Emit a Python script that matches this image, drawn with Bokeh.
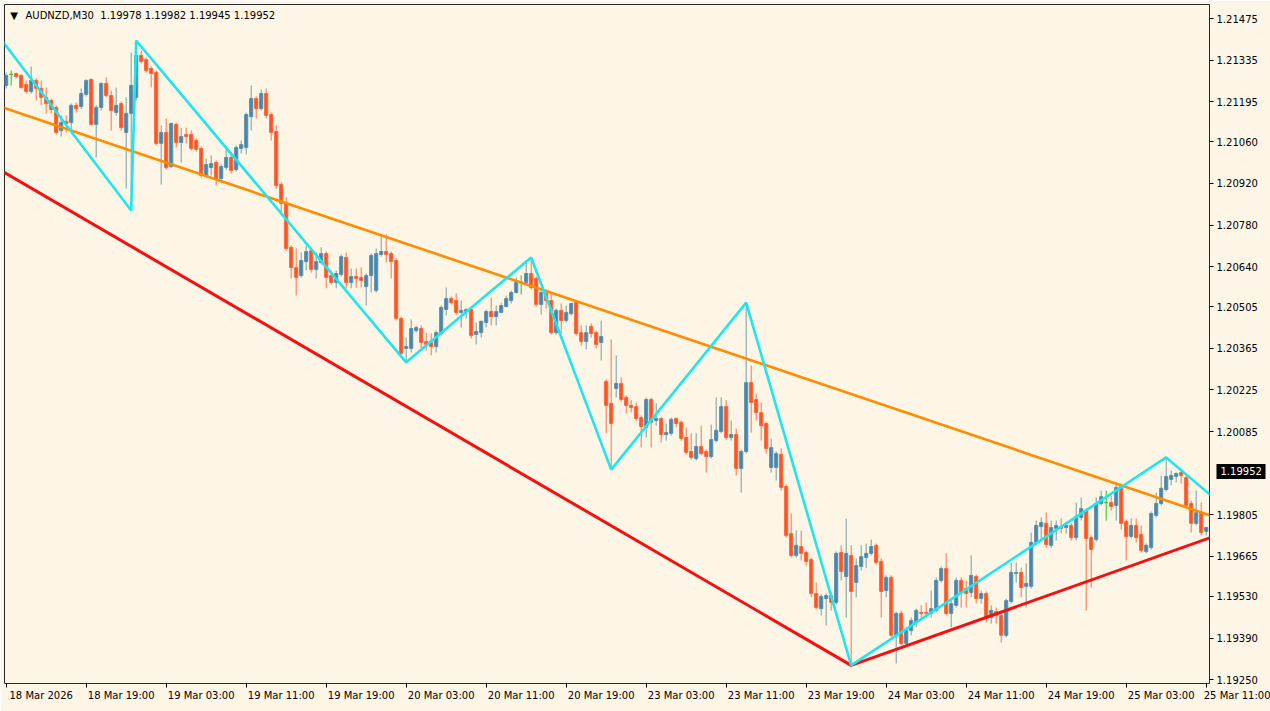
from bokeh.plotting import figure
from bokeh.models import Range1d, FixedTicker, Label, ColumnDataSource, LinearAxis
from bokeh.embed import file_html
from bokeh.resources import INLINE

# ---------------- data (AUDNZD M30, bar index 0 = 18 Mar 2026 11:00) ----------------
opens = [
    1.21250, 1.21287, 1.21290, 1.21284, 1.21253, 1.21230, 1.21267, 1.21240, 1.21210, 1.21199,
    1.21176, 1.21098, 1.21129, 1.21125, 1.21183, 1.21179, 1.21220, 1.21270, 1.21119, 1.21176,
    1.21257, 1.21216, 1.21159, 1.21189, 1.21092, 1.21156, 1.21210, 1.21351, 1.21337, 1.21307,
    1.21294, 1.21055, 1.21092, 1.20977, 1.21119, 1.21058, 1.21085, 1.21085, 1.21065, 1.21038,
    1.20947, 1.20974, 1.20991, 1.20937, 1.20974, 1.21008, 1.20967, 1.21038, 1.21041, 1.21145,
    1.21206, 1.21172, 1.21223, 1.21152, 1.21095, 1.20917, 1.20853, 1.20705, 1.20637, 1.20610,
    1.20657, 1.20694, 1.20631, 1.20654, 1.20684, 1.20610, 1.20587, 1.20614, 1.20671, 1.20587,
    1.20607, 1.20604, 1.20573, 1.20610, 1.20560, 1.20681, 1.20691, 1.20684, 1.20661, 1.20466,
    1.20365, 1.20365, 1.20425, 1.20432, 1.20388, 1.20385, 1.20371, 1.20415, 1.20496, 1.20533,
    1.20526, 1.20486, 1.20489, 1.20496, 1.20412, 1.20418, 1.20452, 1.20489, 1.20472, 1.20486,
    1.20506, 1.20526, 1.20553, 1.20587, 1.20587, 1.20617, 1.20600, 1.20513, 1.20550, 1.20526,
    1.20418, 1.20493, 1.20459, 1.20482, 1.20519, 1.20418, 1.20388, 1.20439, 1.20418, 1.20385,
    1.20254, 1.20180, 1.20230, 1.20247, 1.20200, 1.20173, 1.20169, 1.20132, 1.20099, 1.20193,
    1.20122, 1.20129, 1.20075, 1.20079, 1.20129, 1.20116, 1.20065, 1.20018, 1.19994, 1.20035,
    1.20018, 1.20001, 1.20055, 1.20085, 1.20169, 1.20065, 1.20075, 1.19961, 1.20018, 1.20250,
    1.20193, 1.20149, 1.20112, 1.19964, 1.19964, 1.20008, 1.19900, 1.19742, 1.19668, 1.19698,
    1.19678, 1.19654, 1.19540, 1.19489, 1.19523, 1.19533, 1.19510, 1.19678, 1.19597, 1.19668,
    1.19577, 1.19631, 1.19661, 1.19675, 1.19702, 1.19648, 1.19550, 1.19594, 1.19399, 1.19473,
    1.19372, 1.19415, 1.19442, 1.19476, 1.19476, 1.19473, 1.19483, 1.19584, 1.19624, 1.19473,
    1.19500, 1.19584, 1.19557, 1.19543, 1.19597, 1.19523, 1.19540, 1.19459, 1.19479, 1.19466,
    1.19399, 1.19513, 1.19607, 1.19611, 1.19564, 1.19564, 1.19712, 1.19765, 1.19776, 1.19702,
    1.19759, 1.19765, 1.19762, 1.19769, 1.19728, 1.19796, 1.19819, 1.19728, 1.19722, 1.19843,
    1.19846, 1.19846, 1.19836, 1.19904, 1.19782, 1.19732, 1.19769, 1.19739, 1.19681, 1.19695,
    1.19803, 1.19843, 1.19890, 1.19924, 1.19934, 1.19947, 1.19930, 1.19843, 1.19776, 1.19813,
    1.19749,
]
highs = [
    1.21294, 1.21300, 1.21294, 1.21287, 1.21267, 1.21314, 1.21274, 1.21267, 1.21243, 1.21206,
    1.21183, 1.21149, 1.21149, 1.21189, 1.21193, 1.21240, 1.21270, 1.21274, 1.21183, 1.21260,
    1.21277, 1.21233, 1.21243, 1.21196, 1.21210, 1.21361, 1.21401, 1.21368, 1.21344, 1.21314,
    1.21300, 1.21115, 1.21139, 1.21125, 1.21125, 1.21108, 1.21108, 1.21098, 1.21072, 1.21045,
    1.21004, 1.21014, 1.20997, 1.20984, 1.21038, 1.21024, 1.21048, 1.21065, 1.21159, 1.21250,
    1.21213, 1.21236, 1.21240, 1.21159, 1.21115, 1.20923, 1.20873, 1.20711, 1.20701, 1.20688,
    1.20711, 1.20701, 1.20688, 1.20705, 1.20691, 1.20627, 1.20627, 1.20681, 1.20688, 1.20634,
    1.20634, 1.20637, 1.20617, 1.20684, 1.20701, 1.20745, 1.20748, 1.20691, 1.20668, 1.20472,
    1.20402, 1.20462, 1.20442, 1.20442, 1.20418, 1.20415, 1.20425, 1.20509, 1.20570, 1.20540,
    1.20550, 1.20526, 1.20499, 1.20503, 1.20452, 1.20459, 1.20496, 1.20536, 1.20509, 1.20519,
    1.20543, 1.20560, 1.20604, 1.20610, 1.20661, 1.20671, 1.20607, 1.20567, 1.20563, 1.20553,
    1.20499, 1.20516, 1.20509, 1.20519, 1.20526, 1.20442, 1.20442, 1.20449, 1.20425, 1.20459,
    1.20260, 1.20395, 1.20341, 1.20267, 1.20206, 1.20190, 1.20183, 1.20139, 1.20200, 1.20200,
    1.20180, 1.20132, 1.20112, 1.20132, 1.20132, 1.20122, 1.20099, 1.20079, 1.20079, 1.20105,
    1.20025, 1.20109, 1.20200, 1.20200, 1.20190, 1.20122, 1.20095, 1.20025, 1.20519, 1.20307,
    1.20213, 1.20183, 1.20119, 1.20062, 1.20018, 1.20028, 1.19907, 1.19809, 1.19752, 1.19752,
    1.19685, 1.19661, 1.19577, 1.19537, 1.19540, 1.19543, 1.19681, 1.19702, 1.19792, 1.19702,
    1.19658, 1.19702, 1.19708, 1.19722, 1.19708, 1.19658, 1.19601, 1.19601, 1.19479, 1.19483,
    1.19422, 1.19459, 1.19489, 1.19500, 1.19510, 1.19550, 1.19594, 1.19631, 1.19675, 1.19516,
    1.19594, 1.19594, 1.19584, 1.19668, 1.19604, 1.19550, 1.19547, 1.19500, 1.19493, 1.19473,
    1.19523, 1.19644, 1.19644, 1.19627, 1.19641, 1.19745, 1.19786, 1.19796, 1.19813, 1.19786,
    1.19786, 1.19792, 1.19779, 1.19776, 1.19846, 1.19863, 1.19826, 1.19735, 1.19863, 1.19887,
    1.19887, 1.19870, 1.19914, 1.19910, 1.19789, 1.19792, 1.19792, 1.19769, 1.19708, 1.19816,
    1.19880, 1.19937, 1.19998, 1.19954, 1.19947, 1.19954, 1.19937, 1.19853, 1.19887, 1.19846,
    1.19765,
]
lows = [
    1.21240, 1.21250, 1.21274, 1.21240, 1.21223, 1.21223, 1.21199, 1.21183, 1.21156, 1.21156,
    1.21085, 1.21078, 1.21092, 1.21098, 1.21159, 1.21172, 1.21213, 1.21115, 1.21008, 1.21166,
    1.21210, 1.21098, 1.21149, 1.21098, 1.20903, 1.20829, 1.21199, 1.21324, 1.21294, 1.21243,
    1.21048, 1.20917, 1.20967, 1.20971, 1.21041, 1.20991, 1.21055, 1.21031, 1.21028, 1.20940,
    1.20940, 1.20947, 1.20913, 1.20920, 1.20967, 1.20954, 1.20960, 1.21021, 1.21018, 1.21098,
    1.21139, 1.21166, 1.21139, 1.21065, 1.20903, 1.20822, 1.20694, 1.20600, 1.20543, 1.20604,
    1.20627, 1.20620, 1.20600, 1.20647, 1.20567, 1.20580, 1.20567, 1.20607, 1.20567, 1.20567,
    1.20570, 1.20570, 1.20509, 1.20553, 1.20553, 1.20674, 1.20654, 1.20600, 1.20459, 1.20341,
    1.20318, 1.20351, 1.20418, 1.20358, 1.20358, 1.20341, 1.20351, 1.20408, 1.20476, 1.20513,
    1.20479, 1.20435, 1.20466, 1.20398, 1.20378, 1.20402, 1.20435, 1.20442, 1.20442, 1.20482,
    1.20503, 1.20516, 1.20550, 1.20546, 1.20580, 1.20563, 1.20506, 1.20479, 1.20499, 1.20412,
    1.20412, 1.20415, 1.20452, 1.20476, 1.20408, 1.20375, 1.20361, 1.20402, 1.20365, 1.20324,
    1.20079, 1.19957, 1.20200, 1.20186, 1.20146, 1.20149, 1.20122, 1.20031, 1.20065, 1.20031,
    1.20105, 1.20048, 1.20055, 1.20072, 1.20099, 1.20055, 1.20008, 1.19991, 1.19988, 1.20005,
    1.19947, 1.19994, 1.20048, 1.20079, 1.20058, 1.20055, 1.19937, 1.19880, 1.20011, 1.20082,
    1.20122, 1.20055, 1.20011, 1.19947, 1.19920, 1.19887, 1.19728, 1.19661, 1.19661, 1.19651,
    1.19634, 1.19527, 1.19486, 1.19466, 1.19432, 1.19483, 1.19503, 1.19584, 1.19459, 1.19298,
    1.19527, 1.19617, 1.19627, 1.19668, 1.19638, 1.19459, 1.19527, 1.19392, 1.19304, 1.19365,
    1.19365, 1.19399, 1.19426, 1.19456, 1.19459, 1.19459, 1.19476, 1.19577, 1.19466, 1.19426,
    1.19493, 1.19493, 1.19493, 1.19527, 1.19506, 1.19506, 1.19442, 1.19439, 1.19439, 1.19375,
    1.19392, 1.19506, 1.19577, 1.19527, 1.19493, 1.19557, 1.19702, 1.19712, 1.19695, 1.19692,
    1.19718, 1.19742, 1.19742, 1.19718, 1.19718, 1.19786, 1.19483, 1.19560, 1.19715, 1.19836,
    1.19786, 1.19819, 1.19786, 1.19755, 1.19651, 1.19725, 1.19712, 1.19678, 1.19675, 1.19688,
    1.19796, 1.19836, 1.19883, 1.19904, 1.19914, 1.19910, 1.19830, 1.19745, 1.19769, 1.19735,
    1.19735,
]
closes = [
    1.21284, 1.21287, 1.21280, 1.21243, 1.21230, 1.21267, 1.21240, 1.21210, 1.21189, 1.21169,
    1.21092, 1.21125, 1.21122, 1.21183, 1.21172, 1.21223, 1.21267, 1.21119, 1.21176, 1.21257,
    1.21216, 1.21166, 1.21183, 1.21108, 1.21156, 1.21250, 1.21351, 1.21331, 1.21300, 1.21290,
    1.21055, 1.21092, 1.20974, 1.21122, 1.21058, 1.21078, 1.21078, 1.21038, 1.21035, 1.20947,
    1.20984, 1.20987, 1.20937, 1.20977, 1.21008, 1.20964, 1.21041, 1.21051, 1.21152, 1.21206,
    1.21172, 1.21223, 1.21149, 1.21092, 1.20913, 1.20853, 1.20701, 1.20637, 1.20604, 1.20661,
    1.20691, 1.20631, 1.20657, 1.20684, 1.20604, 1.20587, 1.20617, 1.20674, 1.20587, 1.20607,
    1.20600, 1.20594, 1.20610, 1.20678, 1.20684, 1.20691, 1.20681, 1.20657, 1.20466, 1.20348,
    1.20371, 1.20432, 1.20435, 1.20385, 1.20378, 1.20371, 1.20418, 1.20503, 1.20533, 1.20519,
    1.20486, 1.20493, 1.20496, 1.20408, 1.20422, 1.20456, 1.20489, 1.20472, 1.20489, 1.20509,
    1.20533, 1.20553, 1.20587, 1.20587, 1.20617, 1.20570, 1.20513, 1.20553, 1.20526, 1.20418,
    1.20493, 1.20459, 1.20486, 1.20516, 1.20415, 1.20388, 1.20418, 1.20415, 1.20378, 1.20405,
    1.20173, 1.20112, 1.20247, 1.20193, 1.20173, 1.20166, 1.20129, 1.20102, 1.20193, 1.20116,
    1.20129, 1.20075, 1.20082, 1.20126, 1.20112, 1.20062, 1.20015, 1.19998, 1.20035, 1.20011,
    1.20001, 1.20058, 1.20089, 1.20169, 1.20065, 1.20075, 1.19961, 1.20018, 1.20250, 1.20183,
    1.20149, 1.20105, 1.20028, 1.20031, 1.20011, 1.19897, 1.19735, 1.19668, 1.19702, 1.19675,
    1.19648, 1.19540, 1.19493, 1.19530, 1.19533, 1.19510, 1.19675, 1.19614, 1.19675, 1.19547,
    1.19634, 1.19664, 1.19675, 1.19698, 1.19644, 1.19547, 1.19594, 1.19399, 1.19473, 1.19372,
    1.19415, 1.19449, 1.19483, 1.19473, 1.19473, 1.19489, 1.19584, 1.19624, 1.19473, 1.19506,
    1.19584, 1.19543, 1.19540, 1.19601, 1.19523, 1.19540, 1.19456, 1.19483, 1.19466, 1.19399,
    1.19516, 1.19611, 1.19611, 1.19560, 1.19574, 1.19712, 1.19769, 1.19779, 1.19705, 1.19762,
    1.19769, 1.19759, 1.19769, 1.19728, 1.19799, 1.19826, 1.19725, 1.19688, 1.19843, 1.19866,
    1.19846, 1.19833, 1.19897, 1.19776, 1.19732, 1.19769, 1.19728, 1.19685, 1.19702, 1.19809,
    1.19843, 1.19894, 1.19934, 1.19937, 1.19944, 1.19937, 1.19836, 1.19776, 1.19813, 1.19745,
    1.19762,
]

# time axis labels (every 16 bars)
time_tick_bars = [0, 16, 32, 48, 64, 80, 96, 112, 128, 144, 160, 176, 192, 208, 224, 240]
time_tick_labels = ["18 Mar 2026", "18 Mar 19:00", "19 Mar 03:00", "19 Mar 11:00", "19 Mar 19:00",
                    "20 Mar 03:00", "20 Mar 11:00", "20 Mar 19:00", "23 Mar 03:00", "23 Mar 11:00",
                    "23 Mar 19:00", "24 Mar 03:00", "24 Mar 11:00", "24 Mar 19:00", "25 Mar 03:00",
                    "25 Mar 11:00"]

# price axis ticks
price_ticks = [1.21475, 1.21335, 1.21195, 1.21060, 1.20920, 1.20780, 1.20640, 1.20505,
               1.20365, 1.20225, 1.20085, 1.19805, 1.19665, 1.19530, 1.19390, 1.19250]
price_tick_labels = ["1.21475", "1.21335", "1.21195", "1.21060", "1.20920", "1.20780", "1.20640",
                     "1.20505", "1.20365", "1.20225", "1.20085", "1.19805", "1.19665", "1.19530",
                     "1.19390", "1.19250"]

# zigzag (cyan) vertices: bar index, price
zigzag_bars = [-3, 25, 26, 80, 105, 121, 148, 169, 232, 242]
zigzag_prices = [1.21449, 1.20829, 1.21401, 1.20318, 1.20671, 1.19957, 1.20519, 1.19298, 1.19998, 1.19855]
# resistance trendline (orange)
resist_bars = [-1, 242]
resist_prices = [1.21178, 1.19796]
# support lines (red)
support_bars = [-1, 169, 242]
support_prices = [1.20963, 1.19298, 1.19735]

symbol_text = "AUDNZD,M30\u00a0\u00a01.19978 1.19982 1.19945 1.19952"
last_price = 1.19952
last_price_text = "1.19952"

# ---------------- styling ----------------
BG = "#FDF5E6"
BULL_BODY, BULL_WICK = "#4A86AA", "#7DA7AC"
BEAR_BODY, BEAR_WICK = "#F8552A", "#FF7D55"
DOJI = "#32CD32"
FONT = "DejaVu Sans"

n = len(closes)
xs = list(range(n))
body_top, body_bot, body_col, body_line, wick_col = [], [], [], [], []
for o, c in zip(opens, closes):
    body_top.append(max(o, c))
    body_bot.append(min(o, c))
    if c > o:
        body_col.append(BULL_BODY); body_line.append("#5A91AE"); wick_col.append(BULL_WICK)
    elif c < o:
        body_col.append(BEAR_BODY); body_line.append("#FF6434"); wick_col.append(BEAR_WICK)
    else:
        body_col.append(DOJI); body_line.append(DOJI); wick_col.append(DOJI)

src = ColumnDataSource(dict(x=xs, o=opens, h=highs, l=lows, c=closes, top=body_top,
                            bot=body_bot, fill=body_col, edge=body_line, wick=wick_col))
doji_x = [i for i in xs if opens[i] == closes[i]]
doji_src = ColumnDataSource(dict(x0=[i - 0.35 for i in doji_x], x1=[i + 0.35 for i in doji_x],
                                 y=[closes[i] for i in doji_x]))

X_START, X_END = -0.34, 240.66
p = figure(width=1270, height=711, output_backend="svg", toolbar_location=None,
           x_range=Range1d(X_START, X_END), y_range=Range1d(1.19237, 1.215225),
           x_axis_location="below", y_axis_location="right",
           min_border_left=4, min_border_top=4, min_border_right=61, min_border_bottom=28,
           background_fill_color=BG, border_fill_color=BG,
           outline_line_color="#2a2a2a", outline_line_width=1)
p.grid.visible = False

p.segment(x0="x", y0="l", x1="x", y1="h", line_color="wick", line_width=1.1, source=src)
p.vbar(x="x", width=0.62, top="top", bottom="bot", fill_color="fill", line_color="edge",
       line_width=1, source=src)
p.segment(x0="x0", y0="y", x1="x1", y1="y", line_color=DOJI, line_width=1.3, source=doji_src)

p.line(resist_bars, resist_prices, line_color="#FF8C00", line_width=2.6)
p.line(support_bars, support_prices, line_color="#F41010", line_width=3.0)
p.line(zigzag_bars, zigzag_prices, line_color="#1FE6EE", line_width=2.6)

# price axis (right)
yax = p.yaxis[0]
yax.ticker = FixedTicker(ticks=price_ticks)
yax.major_label_overrides = {v: s for v, s in zip(price_ticks, price_tick_labels)}
yax.major_tick_out = 4
yax.major_tick_in = 0
yax.minor_tick_out = 0
yax.minor_tick_in = 0
yax.major_tick_line_color = "#000000"
yax.axis_line_color = None
yax.major_label_standoff = 3
yax.major_label_text_font = FONT
yax.major_label_text_font_size = "10px"
yax.major_label_text_color = "#000000"

# second, practically zero-width price axis: its thick inward tick is the black
# last-price box and its label writes the white price back over it
price_axis = LinearAxis(ticker=FixedTicker(ticks=[last_price]),
                        major_label_overrides={last_price: last_price_text},
                        major_tick_out=5, major_tick_in=44, minor_tick_out=0, minor_tick_in=0,
                        major_tick_line_width=15, major_tick_line_color="#000000",
                        axis_line_color=None, major_label_standoff=-45,
                        major_label_text_font=FONT, major_label_text_font_size="10px",
                        major_label_text_color="#FFFFFF")
p.add_layout(price_axis, "right")

# time axis (bottom): visible ticks at bar positions, labels shifted right of tick
LABEL_SHIFT = 7
label_pos = [t + LABEL_SHIFT for t in time_tick_bars[:-1]] + [X_END - 0.06]
label_txt = time_tick_labels[:-1] + ["\u00a0" * 22 + time_tick_labels[-1]]
xax = p.xaxis[0]
xax.ticker = FixedTicker(ticks=label_pos, minor_ticks=time_tick_bars)
xax.major_label_overrides = {t: s for t, s in zip(label_pos, label_txt)}
xax.major_tick_line_color = None
xax.major_tick_out = 4
xax.major_tick_in = 0
xax.minor_tick_out = 4
xax.minor_tick_in = 0
xax.minor_tick_line_color = "#000000"
xax.axis_line_color = None
xax.major_label_standoff = 2
xax.major_label_text_font = FONT
xax.major_label_text_font_size = "10px"
xax.major_label_text_color = "#000000"

# header
p.add_layout(Label(x=1.56, y=1.21485, text="\u25bc", text_font=FONT, text_font_size="10px",
                   text_align="center", text_baseline="middle", text_color="#000000"))
p.add_layout(Label(x=3.86, y=1.21485, text=symbol_text, text_font=FONT, text_font_size="10px",
                   text_align="left", text_baseline="middle", text_color="#000000"))

open("out.html", "w").write(file_html(p, INLINE))
